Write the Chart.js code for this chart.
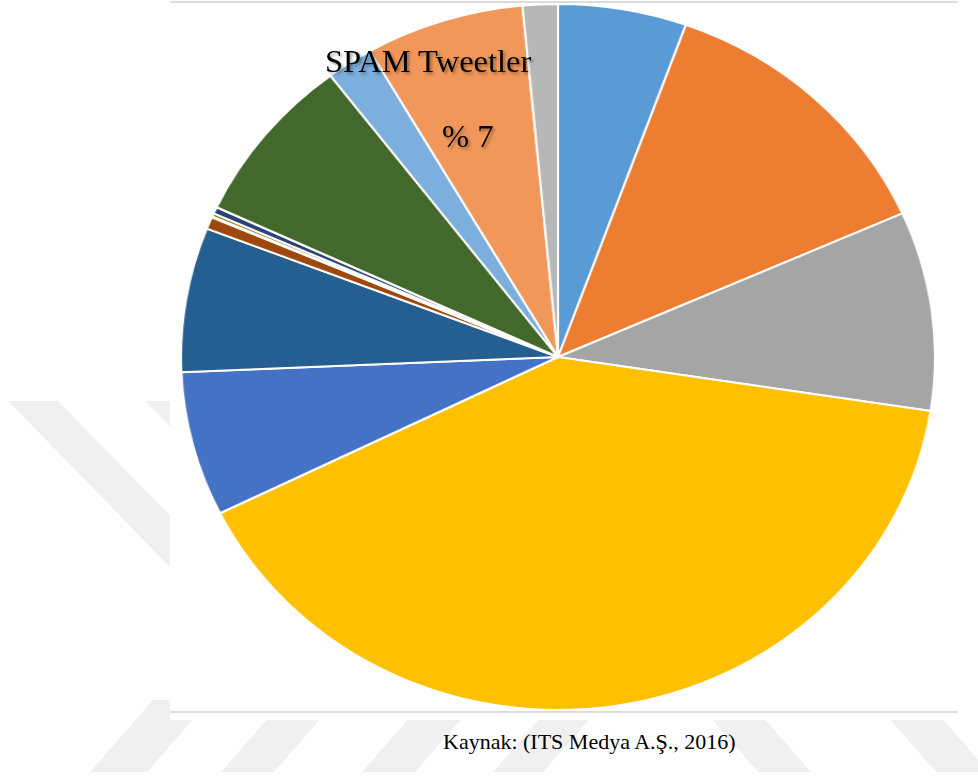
<!DOCTYPE html>
<html>
<head>
<meta charset="utf-8">
<script src="https://cdn.jsdelivr.net/npm/chart.js@4/dist/chart.umd.min.js"></script>
<style>
  html, body { margin: 0; padding: 0; background: #fff; }
  body { width: 978px; height: 776px; position: relative; overflow: hidden; }
  #wm { position: absolute; left: 0; top: 0; }
  #box { position: absolute; left: 170px; top: 0; width: 790px; height: 720px; background: #fff; }
  .hline { position: absolute; left: 170px; width: 788px; height: 2px; background: #dcdcdc; }
  #pieWrap { position: absolute; left: 204px; top: 3px; width: 708px; height: 708px;
             transform: scaleX(1.068); transform-origin: 354px 354px; }
  .lbl { position: absolute; font-family: "Liberation Serif", "Times New Roman", serif; color: #000;
         line-height: 1; white-space: nowrap; }
  .big { font-size: 32.5px; text-shadow: 2px 2px 3px rgba(0,0,0,0.35); }
  #cap { font-size: 22px; }
</style>
</head>
<body>
<svg id="wm" width="978" height="776">
  <g fill="#f0f0f0">
    <polygon points="8,401 58,401 350,700 300,700"/>
    <polygon points="145,401 195,401 490,700 440,700"/>
    <polygon points="90,772 147,772 210,700 153,700"/>
    <polygon points="221,772 274,772 337,700 284,700"/>
    <polygon points="362,772 415,772 478,700 425,700"/>
    <polygon points="493,772 543,772 606,700 556,700"/>
    <polygon points="758,772 811,772 748,700 695,700"/>
    <polygon points="936,772 989,772 926,700 873,700"/>
  </g>
</svg>
<div id="box"></div>
<div class="hline" style="top:1px"></div>
<div class="hline" style="top:711px"></div>
<div id="pieWrap"><canvas id="c" width="708" height="708"></canvas></div>
<div class="lbl big" style="left:325px; top:45px;">SPAM Tweetler</div>
<div class="lbl big" style="left:442px; top:120px;">% 7</div>
<div class="lbl" id="cap" style="left:443px; top:731px;">Kaynak: (ITS Medya A.Ş., 2016)</div>
<script>
const categories = ["Dilim 1", "Dilim 2", "Dilim 3", "Dilim 4", "Dilim 5", "Dilim 6", "Dilim 7",
                    "Dilim 8", "Dilim 9", "Dilim 10", "Dilim 11", "Dilim 12", "SPAM Tweetler", "Dilim 14"];
const shares = [5.5, 12.8, 9.1, 40.2, 6.6, 6.6, 0.55, 0.05, 0.15, 0.3, 7.7, 2.0, 6.8, 1.5];
const sliceColors = ["#5B9BD5", "#ED7D31", "#A5A5A5", "#FFC000", "#4472C4", "#255E91", "#9E480E",
                     "#636363", "#997300", "#264478", "#43682B", "#7CAFDD", "#F1975A", "#B7B7B7"];

new Chart(document.getElementById("c"), {
  type: "pie",
  data: {
    labels: categories,
    datasets: [{
      data: shares,
      backgroundColor: sliceColors,
      borderColor: "#ffffff",
      borderWidth: 2
    }]
  },
  options: {
    responsive: false,
    animation: false,
    layout: { padding: 0 },
    plugins: { legend: { display: false }, tooltip: { enabled: false } }
  }
});
</script>
</body>
</html>
